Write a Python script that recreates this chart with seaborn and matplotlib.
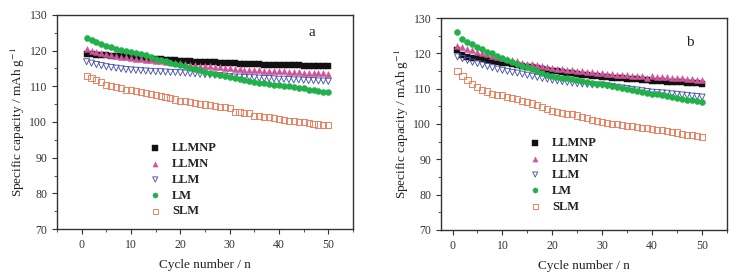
import numpy as np
import pandas as pd
import matplotlib
matplotlib.use("Agg")
import matplotlib.pyplot as plt
import seaborn as sns
from matplotlib.ticker import MultipleLocator

sns.set_style("ticks")
plt.rcParams['font.family'] = ['Liberation Serif', 'DejaVu Serif']
plt.rcParams['mathtext.fontset'] = 'stix'

cycles = list(range(1, 51))
series_names = ["LLMNP", "LLMN", "LLM", "LM", "SLM"]

# Panel a
LLMNP_a = [119.2, 119.0, 118.9, 118.8, 118.7, 118.6, 118.5, 118.4, 118.3, 118.2,
           118.1, 118.0, 117.9, 117.8, 117.7, 117.6, 117.5, 117.4, 117.3, 117.1,
           117.0, 117.0, 116.9, 116.8, 116.8, 116.7, 116.7, 116.6, 116.5, 116.4,
           116.4, 116.3, 116.3, 116.2, 116.2, 116.2, 116.1, 116.1, 116.0, 116.0,
           116.0, 115.9, 115.9, 115.9, 115.8, 115.8, 115.8, 115.7, 115.7, 115.7]
LLMN_a = [120.4, 120.0, 119.6, 119.3, 119.0, 118.7, 118.5, 118.3, 118.1, 117.9,
          117.8, 117.6, 117.5, 117.3, 117.1, 117.0, 116.8, 116.7, 116.5, 116.4,
          116.2, 116.1, 116.0, 115.8, 115.7, 115.6, 115.5, 115.3, 115.2, 115.0,
          114.9, 114.8, 114.7, 114.6, 114.5, 114.5, 114.4, 114.4, 114.3, 114.3,
          114.2, 114.1, 114.0, 113.9, 113.8, 113.8, 113.7, 113.6, 113.6, 113.5]
LLM_a = [116.9, 116.5, 116.1, 115.8, 115.5, 115.3, 115.1, 114.9, 114.7, 114.6,
         114.5, 114.4, 114.3, 114.2, 114.1, 114.1, 114.0, 113.9, 113.9, 113.8,
         113.7, 113.6, 113.5, 113.4, 113.3, 113.2, 113.1, 113.0, 112.9, 112.7,
         112.6, 112.6, 112.5, 112.4, 112.4, 112.3, 112.2, 112.2, 112.1, 112.0,
         112.0, 111.9, 111.8, 111.8, 111.7, 111.6, 111.6, 111.5, 111.5, 111.4]
LM_a = [123.5, 123.0, 122.5, 121.9, 121.3, 120.9, 120.5, 120.2, 119.9, 119.7,
        119.4, 119.1, 118.7, 118.2, 117.6, 117.3, 117.0, 116.6, 116.2, 115.9,
        115.6, 115.2, 114.8, 114.5, 114.1, 113.8, 113.4, 113.1, 112.8, 112.5,
        112.3, 112.0, 111.7, 111.5, 111.2, 111.0, 110.9, 110.7, 110.5, 110.4,
        110.2, 110.0, 109.8, 109.6, 109.4, 109.1, 108.9, 108.6, 108.4, 108.3]
SLM_a = [113.0, 112.4, 111.7, 111.1, 110.5, 110.1, 109.7, 109.4, 109.1, 108.9,
         108.6, 108.3, 108.0, 107.8, 107.5, 107.2, 106.9, 106.6, 106.3, 106.0,
         105.8, 105.6, 105.4, 105.1, 104.9, 104.7, 104.5, 104.3, 104.1, 103.8,
         102.9, 102.8, 102.6, 102.4, 101.7, 101.6, 101.5, 101.3, 101.1, 100.8,
         100.6, 100.4, 100.2, 100.1, 99.9, 99.6, 99.5, 99.3, 99.2, 99.1]

# Panel b
LLMNP_b = [121.0, 119.4, 119.1, 118.8, 118.6, 118.3, 118.1, 117.9, 117.6, 117.4,
           117.2, 117.0, 116.7, 116.5, 116.2, 116.0, 115.8, 115.5, 115.3, 115.0,
           114.9, 114.7, 114.5, 114.4, 114.2, 114.0, 113.8, 113.7, 113.5, 113.3,
           113.2, 113.1, 113.0, 112.9, 112.8, 112.7, 112.6, 112.5, 112.4, 112.3,
           112.2, 112.1, 112.0, 112.0, 111.9, 111.8, 111.7, 111.6, 111.5, 111.4]
LLMN_b = [122.1, 121.7, 121.3, 120.9, 120.5, 120.1, 119.7, 119.3, 118.9, 118.6,
          118.3, 118.0, 117.7, 117.4, 117.1, 116.9, 116.6, 116.4, 116.1, 115.9,
          115.7, 115.5, 115.3, 115.2, 115.0, 114.9, 114.7, 114.6, 114.4, 114.3,
          114.2, 114.1, 114.0, 113.9, 113.8, 113.7, 113.6, 113.5, 112.9, 113.5,
          113.4, 113.3, 113.2, 113.1, 113.0, 112.9, 112.8, 112.6, 112.5, 112.4]
LLM_b = [119.0, 118.5, 118.0, 117.5, 117.1, 116.7, 116.3, 115.9, 115.5, 115.2,
         114.9, 114.6, 114.4, 114.1, 113.8, 113.5, 113.2, 112.9, 112.7, 112.4,
         112.2, 112.0, 111.8, 111.6, 111.4, 111.3, 111.2, 111.1, 111.0, 111.0,
         110.8, 110.6, 110.4, 110.2, 110.0, 109.8, 109.6, 109.4, 109.2, 109.0,
         108.9, 108.8, 108.7, 108.5, 108.4, 108.2, 108.1, 107.9, 107.8, 107.6]
LM_b = [126.1, 124.1, 123.3, 122.6, 121.9, 121.1, 120.5, 120.0, 119.3, 118.6,
        118.1, 117.6, 117.0, 116.5, 116.0, 115.5, 115.0, 114.5, 114.0, 113.5,
        113.3, 113.1, 112.9, 112.6, 112.4, 112.2, 111.9, 111.7, 111.4, 111.2,
        111.0, 110.8, 110.5, 110.3, 110.0, 109.7, 109.4, 109.1, 108.9, 108.6,
        108.4, 108.1, 107.9, 107.6, 107.4, 107.2, 106.9, 106.7, 106.4, 106.2]
SLM_b = [115.0, 113.5, 112.4, 111.2, 110.5, 109.7, 109.2, 108.6, 108.3, 108.1,
         107.7, 107.4, 107.0, 106.6, 106.2, 105.8, 105.3, 104.8, 104.3, 103.8,
         103.5, 103.2, 102.9, 102.7, 102.4, 102.0, 101.6, 101.2, 100.8, 100.5,
         100.3, 100.1, 99.9, 99.7, 99.5, 99.3, 99.1, 98.9, 98.8, 98.6,
         98.4, 98.2, 98.0, 97.8, 97.6, 97.3, 97.0, 96.8, 96.6, 96.4]

panels = {
    "a": [LLMNP_a, LLMN_a, LLM_a, LM_a, SLM_a],
    "b": [LLMNP_b, LLMN_b, LLM_b, LM_b, SLM_b],
}

styles = {
    "LLMNP": dict(marker="s", color="#111111", filled=True),
    "LLMN": dict(marker="^", color="#d0549a", filled=True),
    "LLM": dict(marker="v", color="#4a55a8", filled=False),
    "LM": dict(marker="o", color="#22b04a", filled=True),
    "SLM": dict(marker="s", color="#ec7a58", filled=False),
}

fig = plt.figure(figsize=(7.38, 2.74), dpi=100)
ax_a = fig.add_axes([0.0772, 0.1642, 0.4011, 0.7811])
ax_b = fig.add_axes([0.5976, 0.1606, 0.3875, 0.7737])

configs = [
    (ax_a, "a", (-5, 55), (0.862, 0.92), (0.294, 0.43)),
    (ax_b, "b", (-2.3, 55), (0.87, 0.885), (0.29, 0.462)),
]

for ax, key, xlim, lblpos, legpos in configs:
    for name, vals in zip(series_names, panels[key]):
        st = styles[name]
        df = pd.DataFrame({"cycle": cycles, "cap": vals})
        if st["filled"]:
            sns.scatterplot(data=df, x="cycle", y="cap", ax=ax, marker=st["marker"],
                            color=st["color"], edgecolor=st["color"], s=19,
                            linewidth=0.3, label=name)
        else:
            sns.scatterplot(data=df, x="cycle", y="cap", ax=ax, marker=st["marker"],
                            facecolors="none", edgecolor=st["color"], s=19,
                            linewidth=0.65, label=name)
    ax.set_xlim(*xlim)
    ax.set_ylim(70, 130)
    ax.xaxis.set_major_locator(MultipleLocator(10))
    ax.xaxis.set_minor_locator(MultipleLocator(5))
    ax.yaxis.set_major_locator(MultipleLocator(10))
    ax.yaxis.set_minor_locator(MultipleLocator(5))
    ax.tick_params(which="major", direction="out", length=3.5, width=0.8,
                   labelsize=8.5, colors="#333333", labelcolor="#333333")
    ax.tick_params(which="minor", direction="out", length=2, width=0.6, colors="#333333")
    for sp in ax.spines.values():
        sp.set_linewidth(1.0)
        sp.set_color("#333333")
    ax.set_xlabel("Cycle number / n", fontsize=9.5, color="#222222", labelpad=6)
    ax.set_ylabel("Specific capacity / mAh g$^{-1}$", fontsize=9.5, color="#222222", labelpad=2)
    ax.text(lblpos[0], lblpos[1], key, transform=ax.transAxes, fontsize=11,
            ha="center", va="center", color="#222222")
    leg = ax.legend(frameon=False, loc="upper left", bbox_to_anchor=legpos,
                    prop={"weight": "bold", "size": 9}, handletextpad=0.85,
                    labelspacing=0.31, borderaxespad=0, handlelength=1.0,
                    markerscale=0.85)
    for t in leg.get_texts():
        t.set_color("#222222")

fig.savefig("out.png", dpi=100)
